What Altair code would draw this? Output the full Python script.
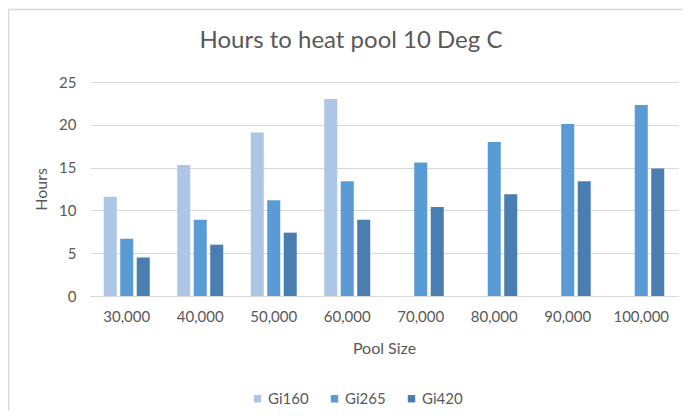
import altair as alt
import pandas as pd

categories = ["30,000", "40,000", "50,000", "60,000", "70,000", "80,000", "90,000", "100,000"]
series_names = ["Gi160", "Gi265", "Gi420"]
gi160 = [11.6, 15.3, 19.1, 23.0]
gi265 = [6.7, 8.9, 11.2, 13.4, 15.6, 18.0, 20.1, 22.3]
gi420 = [4.5, 6.0, 7.4, 8.9, 10.4, 11.9, 13.4, 14.9]
colors = ["#ADC6E6", "#5B9BD5", "#4A7EB0"]
title_text = "Hours to heat pool 10 Deg C"

rows = []
for name, vals in zip(series_names, [gi160, gi265, gi420]):
    for cat, v in zip(categories, vals):
        rows.append({"Pool Size": cat, "Series": name, "Hours": v})
df = pd.DataFrame(rows)

font = "Lato"
grey = "#595959"

bars = alt.Chart(df).mark_bar().encode(
    x=alt.X("Pool Size:N", sort=categories,
            scale=alt.Scale(paddingInner=0.374, paddingOuter=0.187),
            axis=alt.Axis(title="Pool Size", labelAngle=0, ticks=False,
                          domainColor="#D9D9D9", labelPadding=13,
                          titlePadding=16)),
    xOffset=alt.XOffset("Series:N", sort=series_names,
                        scale=alt.Scale(paddingInner=0.21, paddingOuter=0)),
    y=alt.Y("Hours:Q", scale=alt.Scale(domain=[0, 25]),
            axis=alt.Axis(title="Hours", values=[0, 5, 10, 15, 20, 25],
                          ticks=False, domain=False, gridColor="#D9D9D9",
                          labelPadding=14, titlePadding=9)),
    color=alt.Color("Series:N", sort=series_names,
                    scale=alt.Scale(domain=series_names, range=colors),
                    legend=alt.Legend(title=None, orient="none", direction="horizontal",
                                      legendX=160, legendY=309, symbolType="square",
                                      symbolSize=55, symbolStrokeWidth=0,
                                      labelFontSize=15, labelFont=font, labelColor=grey,
                                      columnPadding=18, labelOffset=3)),
)

one = pd.DataFrame({"k": [0]})
left_border = alt.Chart(one).mark_rule(color="#D9D9D9", strokeWidth=1.5).encode(
    x=alt.value(-81.5), y=alt.value(-73), y2=alt.value(330))
top_border = alt.Chart(one).mark_rule(color="#D9D9D9", strokeWidth=1.5).encode(
    x=alt.value(-82), x2=alt.value(600), y=alt.value(-72.5))
title = alt.Chart(one).mark_text(font=font, fontSize=24, color=grey, align="center",
                                 baseline="middle").encode(
    x=alt.value(261), y=alt.value(-41), text=alt.value(title_text))

chart = alt.layer(bars, left_border, top_border, title).properties(
    width=588, height=214,
    autosize=alt.AutoSizeParams(type="none"),
    padding={"left": 82, "top": 74, "right": 5, "bottom": 115},
).configure_view(stroke=None).configure_axis(
    labelFont=font, titleFont=font, labelFontSize=15, titleFontSize=16,
    labelColor=grey, titleColor=grey, titleFontWeight="normal"
)

chart.save("out.html", embed_options={"renderer": "svg", "actions": False})
